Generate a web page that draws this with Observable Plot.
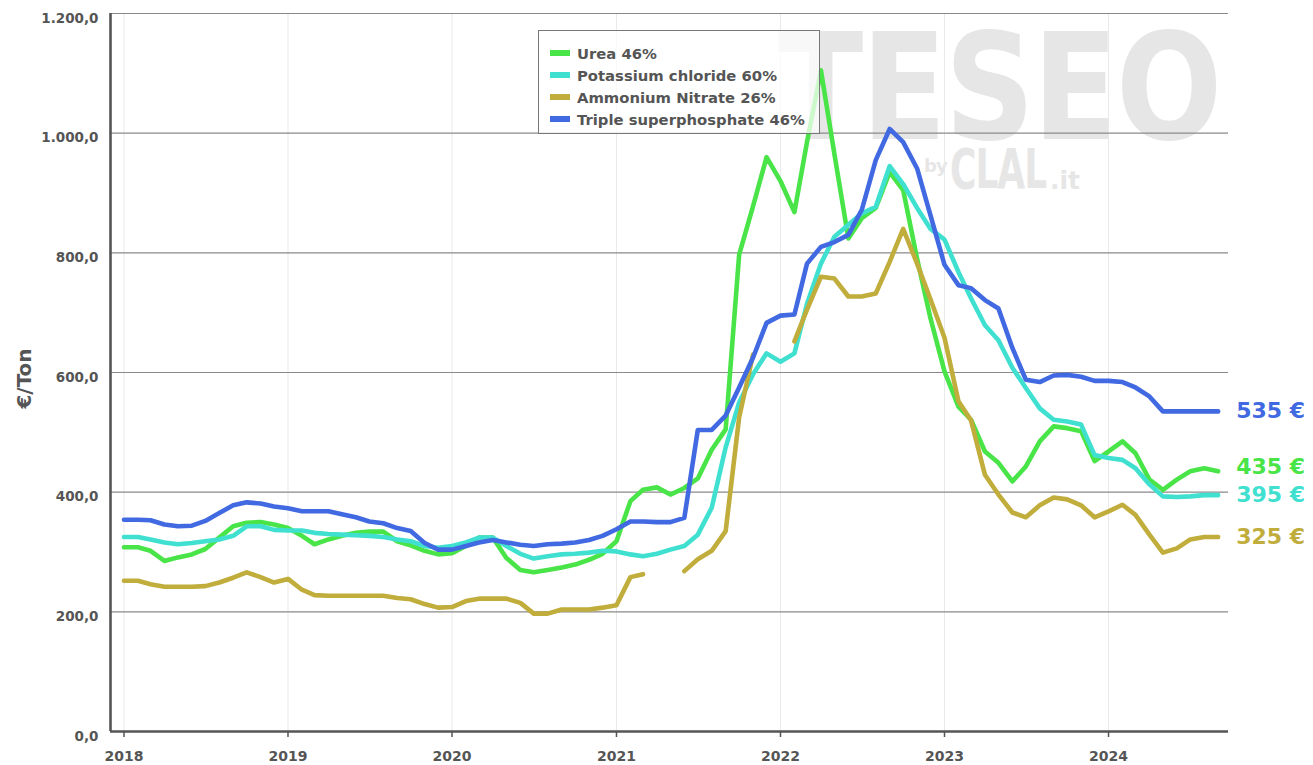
<!DOCTYPE html>
<html>
<head>
<meta charset="utf-8">
<script src="https://cdn.jsdelivr.net/npm/d3@7"></script>
<script src="https://cdn.jsdelivr.net/npm/@observablehq/plot@0.6"></script>
<style>
  html, body { margin: 0; padding: 0; background: #ffffff; }
  #wrap { position: relative; width: 1313px; height: 765px; font-family: "DejaVu Sans", sans-serif; overflow: hidden; }
  #wm { position: absolute; left: 0; top: 0; width: 1313px; height: 765px; z-index: 0; pointer-events: none; color: #e6e6e6; font-weight: bold; font-family: "DejaVu Sans", sans-serif; }
  #wm div { position: absolute; white-space: nowrap; transform-origin: 0 0; }
  #chart { position: absolute; left: 0; top: 0; z-index: 1; }
  #legend { position: absolute; left: 538px; top: 30px; width: 282px; height: 104px; box-sizing: border-box;
            border: 1.5px solid #777; background: rgba(255,255,255,0.72); z-index: 2; padding-top: 11px; }
  .lrow { height: 22px; display: flex; align-items: center; font-size: 14.8px; font-weight: bold; color: #555; }
  .lsw { width: 20px; height: 6px; margin-left: 11px; margin-right: 7px; }
</style>
</head>
<body>
<div id="wrap">
  <div id="wm">
    <div style="left:778px; top:13px; font-size:125px; line-height:1; letter-spacing:-2px; transform:scaleY(1.185);">TESEO</div>
    <div style="left:924px; top:159px; font-size:18px; line-height:0.8; letter-spacing:-1px;">by</div>
    <div style="left:950px; top:148px; font-size:36px; line-height:0.8; letter-spacing:-1px; transform:scaleY(1.55);">CLAL</div>
    <div style="left:1050px; top:171px; font-size:25px; line-height:0.8;">.it</div>
  </div>
  <div id="chart"></div>
  <div id="legend"></div>
</div>
<script>
// ---- Data ----
const seriesNames = ["Urea 46%", "Potassium chloride 60%", "Ammonium Nitrate 26%", "Triple superphosphate 46%"];
const seriesColors = ["#48e448", "#40e0d0", "#c0ad3c", "#4169e1"];

// monthly values, Jan 2018 .. Sep 2024 (€/Ton)
const urea = [
  308,308,302,285,291,296,305,324,343,349,350,346,
  340,327,313,321,327,332,334,334,318,311,302,296,
  298,310,324,324,290,270,266,270,274,279,287,297,
  318,385,404,408,396,407,423,471,505,797,878,960,
  920,868,985,1105,965,824,858,875,935,905,790,690,
  602,543,521,468,449,418,443,485,510,507,502,452,
  468,485,465,421,404,421,435,440,435
];
const potassium = [
  325,325,321,316,313,315,318,321,327,343,343,337,
  336,336,332,330,329,328,327,325,321,318,310,307,
  310,316,324,324,310,297,289,293,296,297,299,302,
  301,296,293,297,304,310,329,374,475,550,597,632,
  618,632,715,782,827,847,866,877,945,915,875,840,
  822,768,724,679,654,608,574,540,521,518,513,462,
  457,454,440,413,393,392,393,395,395
];
const ammonium = [
  252,252,246,242,242,242,243,249,257,266,258,249,
  255,237,228,227,227,227,227,227,223,221,213,207,
  208,218,222,222,222,215,197,197,204,204,204,207,
  211,258,263,null,null,268,288,302,335,525,630,null,
  null,652,705,760,757,727,727,732,785,840,782,722,
  658,552,520,429,396,366,358,378,391,388,378,358,
  368,379,362,329,299,306,321,325,325
];
const triple = [
  354,354,353,346,343,344,352,365,378,383,381,376,
  373,368,368,368,363,358,351,348,340,335,315,304,
  304,310,316,320,316,312,310,313,314,316,320,327,
  338,351,351,350,350,357,504,504,528,575,625,683,
  695,697,782,810,818,830,872,955,1007,985,941,862,
  780,746,741,721,707,641,588,584,595,596,593,586,
  586,584,575,560,535,535,535,535,535
];
const years = [2018, 2019, 2020, 2021, 2022, 2023, 2024];
const yTicks = [0, 200, 400, 600, 800, 1000, 1200];
const yTitle = "€/Ton";

// ---- Build ----
const months = d3.utcMonth.range(new Date(Date.UTC(2018, 0, 1)), new Date(Date.UTC(2024, 9, 1)));
const seriesValues = [urea, potassium, ammonium, triple];
const table = months.map((d, i) => ({date: d, v: seriesValues.map(s => s[i])}));
const last = table[table.length - 1];
const yearDates = years.map(y => new Date(Date.UTC(y, 0, 1)));
const xDomain = [new Date(Date.UTC(2017, 11, 2)), new Date(Date.UTC(2024, 8, 24))];
const itFmt = d3.formatLocale({decimal: ",", thousands: ".", grouping: [3], currency: ["", " €"]}).format(",.1f");
const labelDy = [-4, 0, 0, 0];

const lineMarks = seriesValues.map((s, k) =>
  Plot.lineY(table, {x: "date", y: d => d.v[k], stroke: seriesColors[k], strokeWidth: 4.6,
                     strokeLinejoin: "round", strokeLinecap: "round"}));
const labelMarks = seriesValues.map((s, k) =>
  Plot.text([last], {x: "date", y: d => d.v[k], text: d => `${d.v[k]} €`, dx: 18, dy: labelDy[k],
                     textAnchor: "start", fill: seriesColors[k], fontSize: 22, fontWeight: "bold"}));

const chart = Plot.plot({
  width: 1313,
  height: 765,
  marginLeft: 110,
  marginRight: 85,
  marginTop: 13,
  marginBottom: 34,
  style: {background: "transparent", fontFamily: "DejaVu Sans, sans-serif", fontSize: "13.5px",
          fontWeight: "bold", color: "#555", overflow: "visible"},
  x: {type: "utc", domain: xDomain, label: null},
  y: {domain: [0, 1200], label: null},
  marks: [
    Plot.ruleX(yearDates, {stroke: "#e9e9e9", strokeWidth: 1}),
    Plot.ruleY(yTicks, {stroke: "#8a8a8a", strokeWidth: 1.2}),
    ...lineMarks,
    Plot.ruleY([0], {stroke: "#555", strokeWidth: 2.6}),
    Plot.ruleX([xDomain[0]], {stroke: "#555", strokeWidth: 2.6}),
    ...labelMarks,
    Plot.axisY({ticks: yTicks, tickFormat: itFmt, tickSize: 0, tickPadding: 12, dy: 5, label: null,
                fontSize: 13.5, fontWeight: "bold", fill: "#555"}),
    Plot.axisX({ticks: yearDates, tickFormat: d3.utcFormat("%Y"), tickSize: 6, tickPadding: 14, label: null,
                fontSize: 14, fontWeight: "bold", stroke: "#555", fill: "#555", strokeWidth: 1.5}),
    Plot.text([yTitle], {text: d => d, frameAnchor: "left", textAnchor: "middle", rotate: -90, dx: -86, dy: 6,
                         fontSize: 20, fontWeight: "bold", fill: "#555"})
  ]
});
document.getElementById("chart").appendChild(chart);

// legend
const legend = document.getElementById("legend");
seriesNames.forEach((n, k) => {
  const row = document.createElement("div");
  row.className = "lrow";
  const sw = document.createElement("span");
  sw.className = "lsw";
  sw.style.background = seriesColors[k];
  const tx = document.createElement("span");
  tx.textContent = n;
  row.appendChild(sw);
  row.appendChild(tx);
  legend.appendChild(row);
});
</script>
</body>
</html>
